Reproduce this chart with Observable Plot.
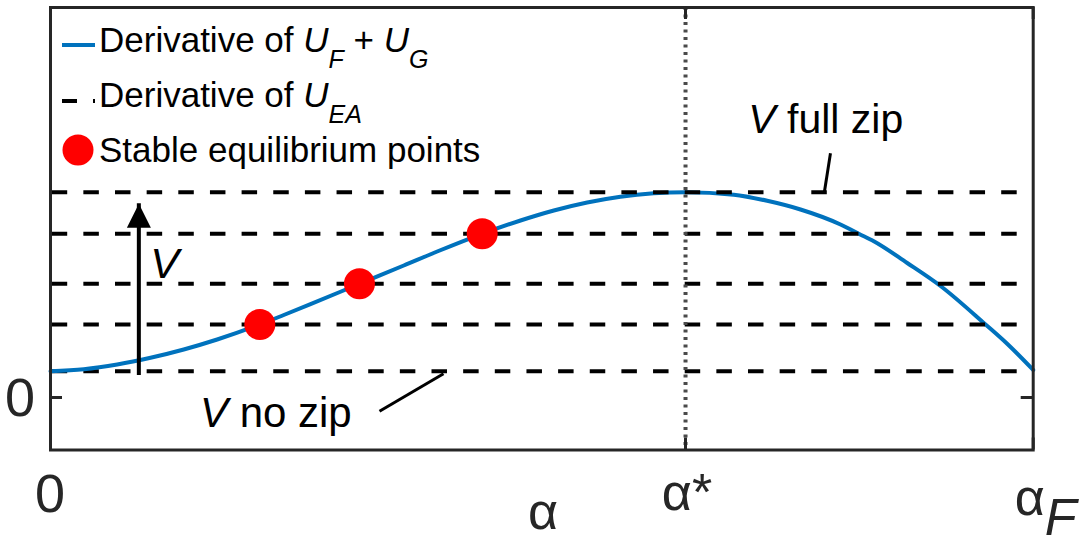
<!DOCTYPE html>
<html><head><meta charset="utf-8">
<script src="https://cdn.jsdelivr.net/npm/d3@7"></script>
<script src="https://cdn.jsdelivr.net/npm/@observablehq/plot@0.6"></script>
<style>
html,body{margin:0;padding:0;background:#fff;}
#chart{width:1085px;height:535px;overflow:hidden;}
svg{display:block;}
</style></head><body><div id="chart"></div>
<script>
// ---- data (α normalised by α_F, derivative values in arbitrary units) ----
const alphaNorm = [0, 0.0339, 0.0679, 0.1018, 0.1356, 0.1696, 0.213, 0.2374, 0.2646, 0.3144, 0.3595, 0.3935, 0.4393, 0.4783, 0.5122, 0.5461, 0.58, 0.6139, 0.6462, 0.6953, 0.7293, 0.7632, 0.8039, 0.8225, 0.8378, 0.8718, 0.9057, 0.9515, 0.9735, 1.0];
const dUfg = [0.263, 0.283, 0.33, 0.397, 0.48, 0.58, 0.73, 0.825, 0.933, 1.137, 1.32, 1.46, 1.637, 1.77, 1.87, 1.95, 2.008, 2.042, 2.053, 2.028, 1.967, 1.88, 1.73, 1.637, 1.563, 1.345, 1.115, 0.73, 0.537, 0.275];
const vLevels = [0.263, 0.73, 1.137, 1.637, 2.053];
const stableAlpha = [0.213, 0.3144, 0.4393];
const stableV = [0.73, 1.137, 1.637];
const alphaStar = 0.6462;
const arrowAlpha = 0.0899, arrowFrom = 0.42, arrowTo = 1.937;
const xTickValues = [0, alphaStar, 1];
const yTickValues = [0];
const yTickLabels = ["0"];
const noZipLeader = {a1: 0.3348, v1: -0.137, a2: 0.3999, v2: 0.237};
const fullZipLeader = {a1: 0.7937, v1: 2.443, a2: 0.7876, v2: 2.06};

// ---- build ----
const W = 1085, H = 535, mL = 50, mR = 52.3, mT = 7, mB = 85.5;
const pw = W - mL - mR, ph = H - mT - mB;
const FONT = "'Liberation Sans', Arial, Helvetica, sans-serif";
const AX = "#262626";
const BLUE = "#0072BD";

const curve = alphaNorm.map((a, i) => ({a, v: dUfg[i]}));
const stable = stableAlpha.map((a, i) => ({a, v: stableV[i]}));
const arrow = [{a: arrowAlpha, from: arrowFrom, to: arrowTo}];
const arrowHead = {draw(ctx) { ctx.moveTo(0, 0); ctx.lineTo(-12, 24); ctx.lineTo(12, 24); ctx.closePath(); }};
const dash = {stroke: "black", strokeWidth: 4, strokeDasharray: "15.5,16.15", strokeDashoffset: -1.7};

const plot = Plot.plot({
  width: W, height: H,
  marginLeft: mL, marginRight: mR, marginTop: mT, marginBottom: mB,
  x: {domain: [0, 1], axis: null},
  y: {domain: [-0.525, 3.9], axis: null},
  style: {fontFamily: FONT, background: "white"},
  marks: [
    Plot.ruleY(vLevels.slice(0, 1), dash),
    Plot.line(curve, {x: "a", y: "v", stroke: BLUE, strokeWidth: 4, curve: "monotone-x"}),
    Plot.ruleY(vLevels.slice(1), dash),
    Plot.ruleX([alphaStar], {stroke: "#4a4a4a", strokeWidth: 4, strokeDasharray: "3,4.5"}),
    Plot.dot(stable, {x: "a", y: "v", r: 15.5, fill: "#ff0000"}),
    Plot.ruleX(arrow, {x: "a", y1: "from", y2: "to", insetTop: 20, stroke: "black", strokeWidth: 4}),
    Plot.dot(arrow, {x: "a", y: "to", symbol: arrowHead, fill: "black", r: 5}),
    Plot.link([noZipLeader], {x1: "a1", y1: "v1", x2: "a2", y2: "v2", stroke: "black", strokeWidth: 3}),
    Plot.link([fullZipLeader], {x1: "a1", y1: "v1", x2: "a2", y2: "v2", stroke: "black", strokeWidth: 3}),
    // inward ticks (box style)
    Plot.ruleY(yTickValues, {insetRight: pw - 12, stroke: AX, strokeWidth: 3}),
    Plot.ruleY(yTickValues, {insetLeft: pw - 12, stroke: AX, strokeWidth: 3}),
    Plot.ruleX(xTickValues, {insetBottom: ph - 12, stroke: AX, strokeWidth: 3}),
    Plot.ruleX(xTickValues, {insetTop: ph - 12, stroke: AX, strokeWidth: 3}),
    Plot.frame({stroke: AX, strokeWidth: 3})
  ]
});
document.getElementById("chart").appendChild(plot);

const sx = plot.scale("x"), sy = plot.scale("y");
const svg = d3.select(plot);
const g = svg.append("g").attr("font-family", FONT);

function rich(x, y, parts, size, fill, anchor) {
  const t = g.append("text").attr("x", x).attr("y", y).attr("font-size", size)
    .attr("fill", fill || "black").attr("text-anchor", anchor || "start");
  let shifted = 0;
  for (const p of parts) {
    const s = t.append("tspan").text(p.t);
    if (p.italic) s.attr("font-style", "italic");
    if (p.size) s.attr("font-size", p.size);
    const target = p.sub || 0;
    if (target !== shifted) { s.attr("dy", target - shifted); shifted = target; }
  }
  return t;
}

// tick labels
yTickValues.forEach((v, i) => rich(mL - 15, sy.apply(v) + 19, [{t: yTickLabels[i]}], 54, AX, "end"));
rich(sx.apply(xTickValues[0]), 512, [{t: "0"}], 54, AX, "middle");
rich(sx.apply(xTickValues[1]) + 2, 510, [{t: "α*"}], 52, AX, "middle");
rich(sx.apply(xTickValues[2]) - 18, 515, [{t: "α"}, {t: "F", italic: true, sub: 20}], 52, AX, "start");
// x-axis label
rich(543, 529, [{t: "α"}], 52, AX, "middle");

// annotations
rich(sx.apply(arrowAlpha) + 12, sy.apply(1.19), [{t: "V", italic: true}], 43, "black");
rich(sx.apply(0.1526), sy.apply(-0.30), [{t: "V", italic: true}, {t: " no zip"}], 42, "black");
rich(sx.apply(0.7106), sy.apply(2.637), [{t: "V", italic: true}, {t: " full zip"}], 41, "black");

// legend
const L = g.append("g");
L.append("line").attr("x1", 62).attr("x2", 95).attr("y1", 45).attr("y2", 45).attr("stroke", BLUE).attr("stroke-width", 4);
L.append("line").attr("x1", 62).attr("x2", 95).attr("y1", 101).attr("y2", 101).attr("stroke", "black").attr("stroke-width", 4).attr("stroke-dasharray", "15,16");
L.append("circle").attr("cx", 78).attr("cy", 150).attr("r", 15.5).attr("fill", "#ff0000");
rich(99, 52, [{t: "Derivative of "}, {t: "U", italic: true}, {t: "F", italic: true, size: 25, sub: 16}, {t: " + "}, {t: "U", italic: true}, {t: "G", italic: true, size: 25, sub: 16}], 35, "black");
rich(99, 107, [{t: "Derivative of "}, {t: "U", italic: true}, {t: "EA", italic: true, size: 25, sub: 16}], 35, "black");
rich(99, 162, [{t: "Stable equilibrium points"}], 35, "black");
</script>
</body></html>
